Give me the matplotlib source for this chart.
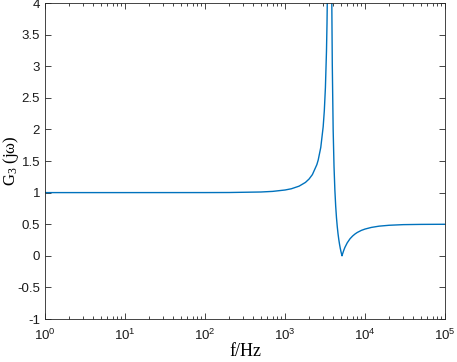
import matplotlib
matplotlib.use("Agg")
import matplotlib.pyplot as plt
from matplotlib.ticker import LogLocator, NullFormatter

# |G3(jw)|
freq = [1, 10, 100, 200, 500, 700, 1000, 1200, 1500, 1800, 2000, 2200, 2500,
        2600, 2800, 3000, 3100, 3200, 3300, 3350, 3400, 3450, 3500, 3550, 3600,
        3700, 3750, 3800, 3850, 3900, 4000, 4100, 4200, 4300, 4400, 4500, 4600,
        4700, 4800, 4900, 5000, 5050, 5160, 5250, 5400, 5600, 6000, 6500, 7000,
        7500, 8000, 9000, 10000, 12000, 15000, 20000, 30000, 50000, 100000]
gain = [1.0, 1.0, 1.0004, 1.0015, 1.0096, 1.0191, 1.041, 1.0606, 1.102, 1.161,
        1.215, 1.285, 1.442, 1.515, 1.715, 2.041, 2.294, 2.661, 3.238, 3.673,
        4.279, 5.19, 6.71, 9.76, 18.9, 17.6, 8.51, 5.46, 3.94, 3.029, 1.988,
        1.410, 1.043, 0.789, 0.603, 0.462, 0.350, 0.260, 0.186, 0.123, 0.070,
        0.047, 0.0, 0.032, 0.079, 0.131, 0.206, 0.270, 0.313, 0.345, 0.369,
        0.402, 0.423, 0.449, 0.469, 0.483, 0.493, 0.497, 0.499]

plt.rcParams['font.family'] = ['Liberation Sans', 'DejaVu Sans']
plt.rcParams['mathtext.default'] = 'regular'

fig = plt.figure(figsize=(4.57, 3.62), dpi=100)
ax = fig.add_axes([45/457, 43/362, 400/457, 316/362])

ax.plot(freq, gain, color='#0072BD', lw=1.0)
ax.set_xscale('log')
ax.set_xlim(1, 1e5)
ax.set_ylim(-1, 4)
ax.set_yticks([-1, -0.5, 0, 0.5, 1, 1.5, 2, 2.5, 3, 3.5, 4])
ax.set_yticklabels(['-1', '-0.5', '0', '0.5', '1', '1.5', '2', '2.5', '3', '3.5', '4'])
ax.xaxis.set_minor_locator(LogLocator(base=10, subs=range(2, 10), numticks=20))
ax.xaxis.set_minor_formatter(NullFormatter())

ax.tick_params(which='both', direction='in', top=True, right=True,
               color='#262626', labelcolor='#1a1a1a', labelsize=9.5, width=0.6)
ax.tick_params(which='major', length=4)
ax.tick_params(which='minor', length=2)
ax.tick_params(axis='x', pad=6)
for s in ax.spines.values():
    s.set_color('#262626')
    s.set_linewidth(0.6)

ax.set_xlabel('f/Hz', family='Liberation Serif', fontsize=13)
ax.xaxis.set_label_coords(0.5, -0.076)
ax.set_ylabel('G$_3$ (j$\\omega$)', family='Liberation Serif', fontsize=12)
ax.yaxis.set_label_coords(-0.06, 0.5)

fig.savefig('out.png', dpi=100)
